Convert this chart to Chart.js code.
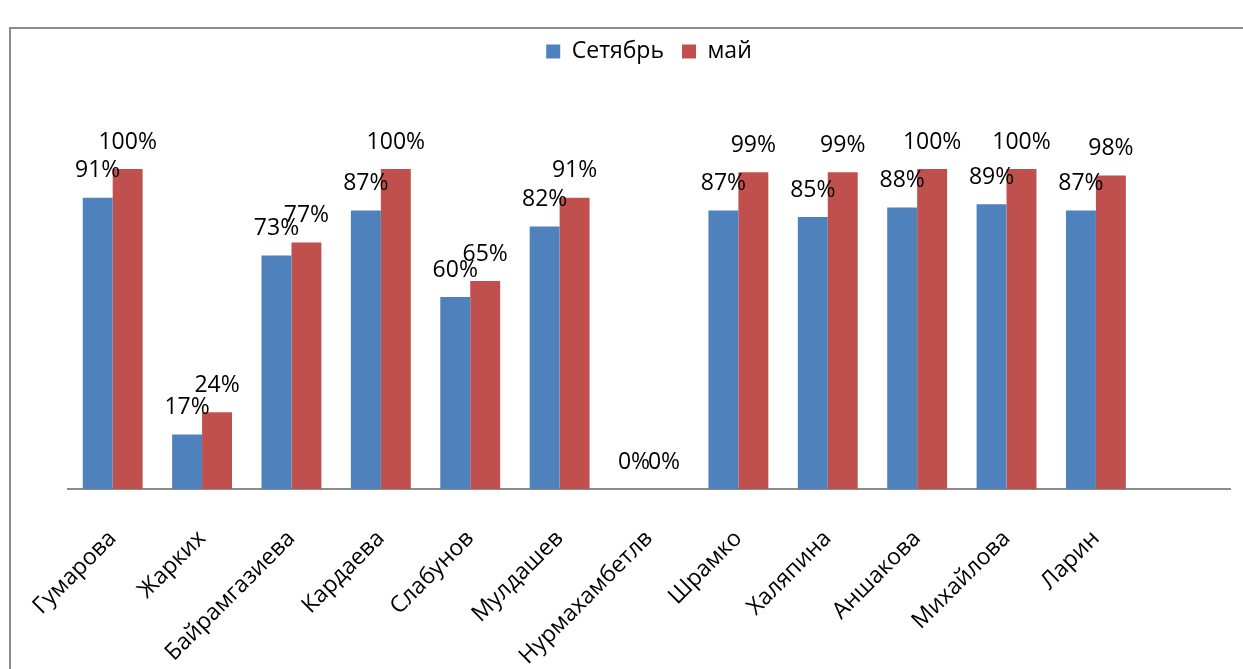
<!DOCTYPE html>
<html>
<head>
<meta charset="utf-8">
<script src="https://cdn.jsdelivr.net/npm/chart.js@4"></script>
<style>
  html, body { margin: 0; padding: 0; background: #fff; overflow: hidden; }
  #wrap { position: relative; width: 1243px; height: 669px; }
  #frame { position: absolute; left: 9px; top: 27px; width: 1300px; height: 700px; border: 2px solid #8c8c8c; box-sizing: border-box; pointer-events: none; }
</style>
</head>
<body>
<div id="wrap">
  <canvas id="chart" width="1243" height="669"></canvas>
  <div id="frame"></div>
</div>
<script>
// names (last slot is empty in the original sheet)
const names = ['Гумарова', 'Жарких', 'Байрамгазиева', 'Кардаева', 'Слабунов', 'Мулдашев',
  'Нурмахамбетлв', 'Шрамко', 'Халяпина', 'Аншакова', 'Михайлова', 'Ларин', ''];
const september = [91, 17, 73, 87, 60, 82, 0, 87, 85, 88, 89, 87, null];
const may = [100, 24, 77, 100, 65, 91, 0, 99, 99, 100, 100, 98, null];
const seriesNames = ['Сетябрь', 'май'];

const FONT = '"Open Sans", "Liberation Sans", sans-serif';

// percent labels above every bar
const valueLabels = {
  id: 'valueLabels',
  afterDatasetsDraw(chart) {
    const ctx = chart.ctx;
    ctx.save();
    ctx.font = '23px ' + FONT;
    ctx.fillStyle = '#000';
    ctx.textAlign = 'center';
    ctx.textBaseline = 'middle';
    chart.data.datasets.forEach((ds, i) => {
      chart.getDatasetMeta(i).data.forEach((bar, j) => {
        if (ds.data[j] == null) return;
        ctx.fillText(ds.data[j] + '%', bar.x, bar.y - 27);
      });
    });
    ctx.restore();
  }
};

new Chart(document.getElementById('chart'), {
  type: 'bar',
  data: {
    labels: names,
    datasets: [
      { label: seriesNames[0], data: september, backgroundColor: '#4F81BD' },
      { label: seriesNames[1], data: may, backgroundColor: '#C0504D' }
    ]
  },
  options: {
    responsive: false,
    animation: false,
    layout: { padding: { left: 68, right: 13, top: 22, bottom: 0 } },
    datasets: { bar: { categoryPercentage: 0.67, barPercentage: 1.0 } },
    plugins: {
      legend: {
        display: true,
        position: 'top',
        labels: { font: { family: FONT, size: 23 }, color: '#000', boxWidth: 14, boxHeight: 14, padding: 18 }
      },
      tooltip: { enabled: false }
    },
    scales: {
      x: {
        grid: { display: false },
        border: { display: true, color: '#8c8c8c', width: 2 },
        ticks: { font: { family: FONT, size: 23 }, color: '#000', minRotation: 45, maxRotation: 45, autoSkip: false, padding: 28 },
        afterFit: s => { s.height = 180; }
      },
      y: {
        display: false,
        min: 0,
        max: 130
      }
    }
  },
  plugins: [valueLabels]
});
</script>
</body>
</html>
